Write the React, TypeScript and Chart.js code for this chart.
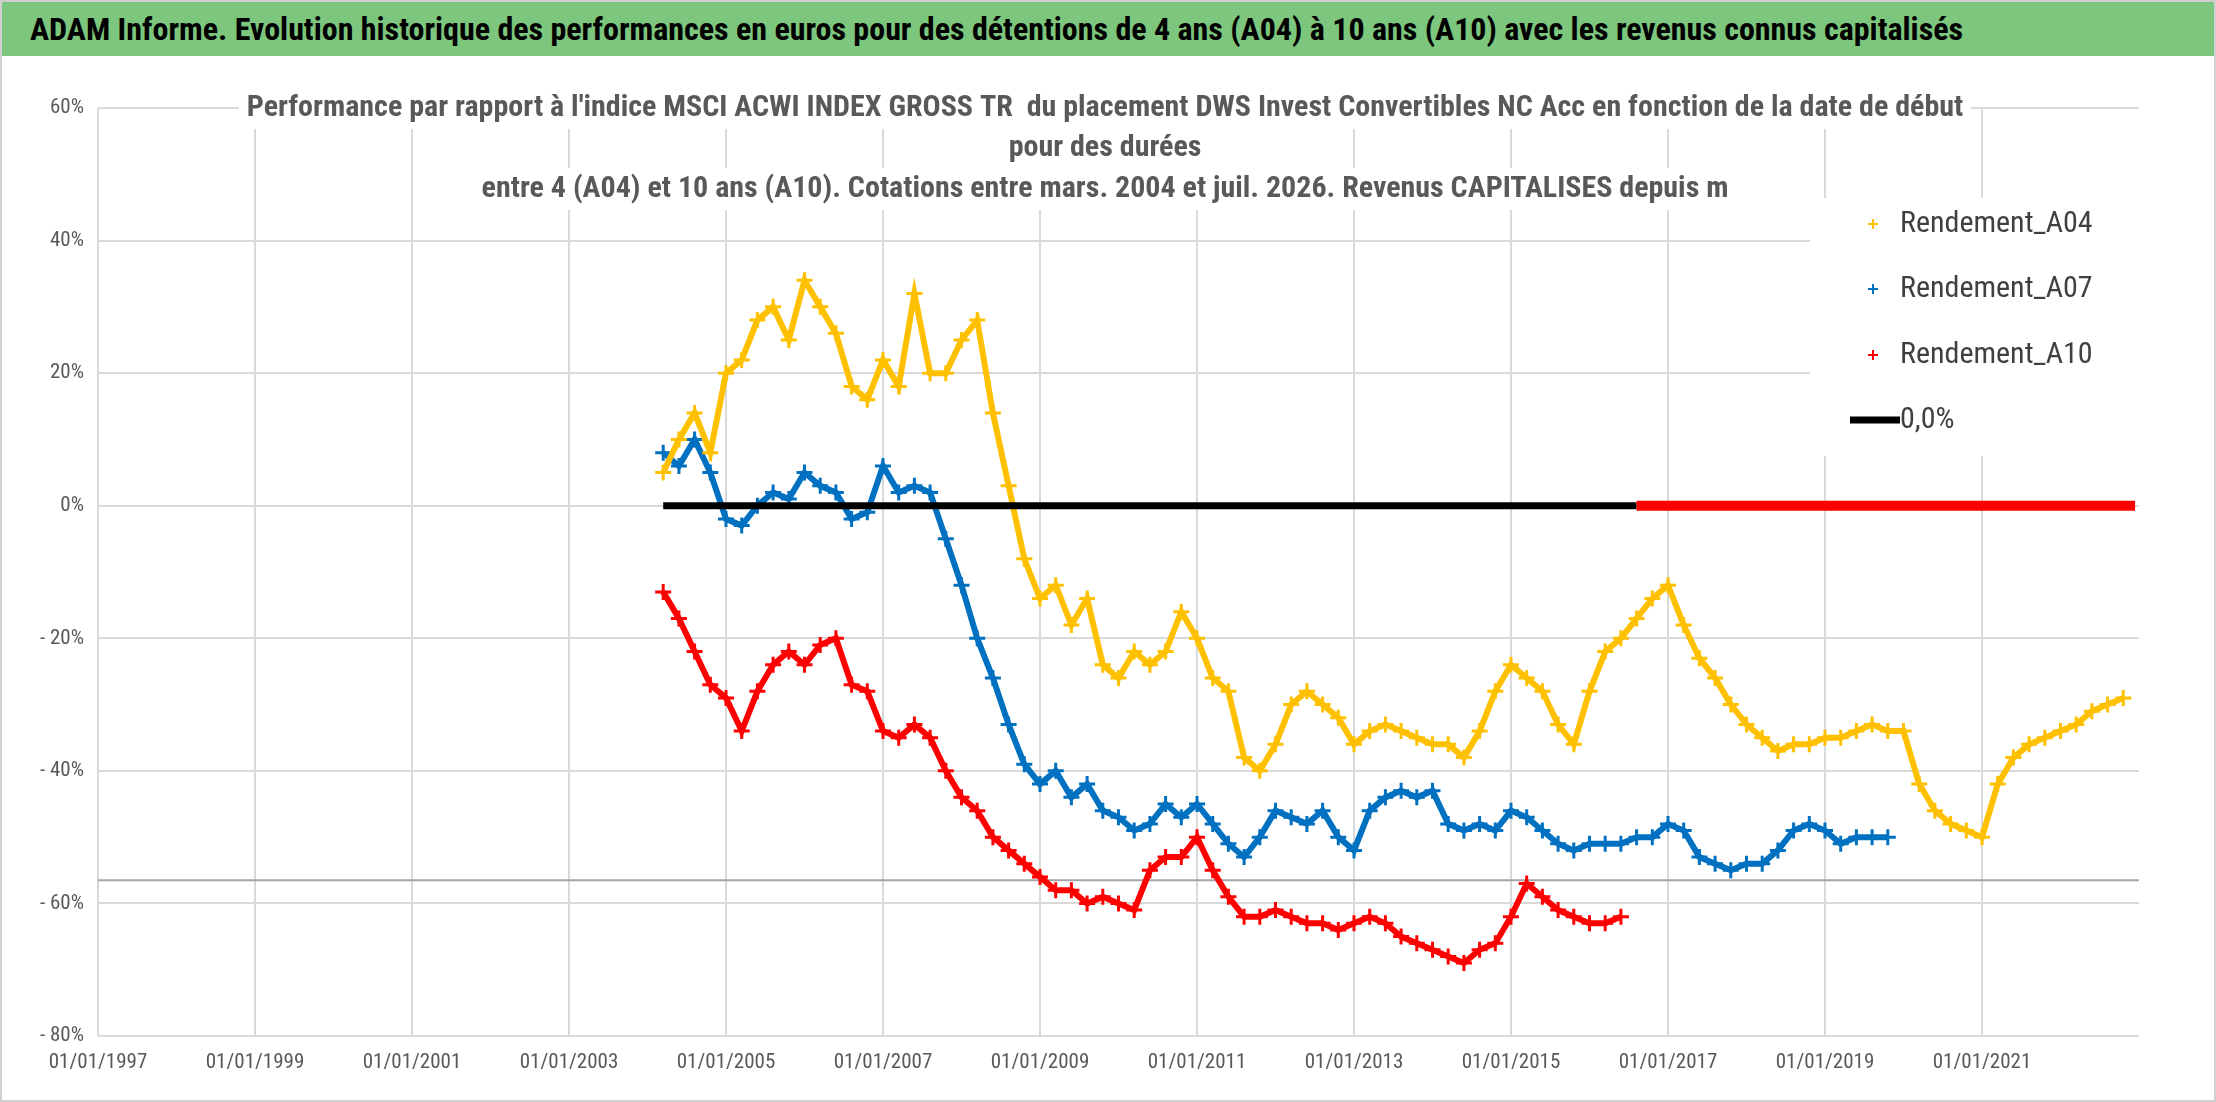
import React, { useEffect, useRef } from "react";
import { Chart, registerables } from "chart.js";
Chart.register(...registerables);

const HEADER = "ADAM Informe. Evolution historique des performances en euros pour des détentions de 4 ans (A04) à 10 ans (A10) avec les revenus connus capitalisés";
const SUBTITLE = [
  "Performance par rapport à l'indice MSCI ACWI INDEX GROSS TR  du placement DWS Invest Convertibles NC Acc en fonction de la date de début",
  "pour des durées",
  "entre 4 (A04) et 10 ans (A10). Cotations entre mars. 2004 et juil. 2026. Revenus CAPITALISES depuis m",
];
const LEGEND = ["Rendement_A04", "Rendement_A07", "Rendement_A10", "0,0%"];

const DATES = [
  2004.2, 2004.4, 2004.6, 2004.8,
  2005.0, 2005.2, 2005.4, 2005.6, 2005.8,
  2006.0, 2006.2, 2006.4, 2006.6, 2006.8,
  2007.0, 2007.2, 2007.4, 2007.6, 2007.8,
  2008.0, 2008.2, 2008.4, 2008.6, 2008.8,
  2009.0, 2009.2, 2009.4, 2009.6, 2009.8,
  2010.0, 2010.2, 2010.4, 2010.6, 2010.8,
  2011.0, 2011.2, 2011.4, 2011.6, 2011.8,
  2012.0, 2012.2, 2012.4, 2012.6, 2012.8,
  2013.0, 2013.2, 2013.4, 2013.6, 2013.8,
  2014.0, 2014.2, 2014.4, 2014.6, 2014.8,
  2015.0, 2015.2, 2015.4, 2015.6, 2015.8,
  2016.0, 2016.2, 2016.4, 2016.6, 2016.8,
  2017.0, 2017.2, 2017.4, 2017.6, 2017.8,
  2018.0, 2018.2, 2018.4, 2018.6, 2018.8,
  2019.0, 2019.2, 2019.4, 2019.6, 2019.8,
  2020.0, 2020.2, 2020.4, 2020.6, 2020.8,
  2021.0, 2021.2, 2021.4, 2021.6, 2021.8,
  2022.0, 2022.2, 2022.4, 2022.6, 2022.8,
];

const A04 = [
  5, 10, 14, 8,
  20, 22, 28, 30, 25,
  34, 30, 26, 18, 16,
  22, 18, 32, 20, 20,
  25, 28, 14, 3, -8,
  -14, -12, -18, -14, -24,
  -26, -22, -24, -22, -16,
  -20, -26, -28, -38, -40,
  -36, -30, -28, -30, -32,
  -36, -34, -33, -34, -35,
  -36, -36, -38, -34, -28,
  -24, -26, -28, -33, -36,
  -28, -22, -20, -17, -14,
  -12, -18, -23, -26, -30,
  -33, -35, -37, -36, -36,
  -35, -35, -34, -33, -34,
  -34, -42, -46, -48, -49,
  -50, -42, -38, -36, -35,
  -34, -33, -31, -30, -29,
];
const A07 = [
  8, 6, 10, 5,
  -2, -3, 0, 2, 1,
  5, 3, 2, -2, -1,
  6, 2, 3, 2, -5,
  -12, -20, -26, -33, -39,
  -42, -40, -44, -42, -46,
  -47, -49, -48, -45, -47,
  -45, -48, -51, -53, -50,
  -46, -47, -48, -46, -50,
  -52, -46, -44, -43, -44,
  -43, -48, -49, -48, -49,
  -46, -47, -49, -51, -52,
  -51, -51, -51, -50, -50,
  -48, -49, -53, -54, -55,
  -54, -54, -52, -49, -48,
  -49, -51, -50, -50, -50,
];
const A10 = [
  -13, -17, -22, -27,
  -29, -34, -28, -24, -22,
  -24, -21, -20, -27, -28,
  -34, -35, -33, -35, -40,
  -44, -46, -50, -52, -54,
  -56, -58, -58, -60, -59,
  -60, -61, -55, -53, -53,
  -50, -55, -59, -62, -62,
  -61, -62, -63, -63, -64,
  -63, -62, -63, -65, -66,
  -67, -68, -69, -67, -66,
  -62, -57, -59, -61, -62,
  -63, -63, -62,
];
const ZERO_BLACK_X = [2004.2, 2016.6];
const ZERO_RED_X = [2016.6, 2022.95];
const GRAY_LINE_X = [1997, 2023];
const GRAY_LINE_Y = -56.5;

const FONT = "'Liberation Sans Narrow', 'Roboto Condensed', 'Liberation Sans', sans-serif";

const pts = (ys: number[]) => ys.map((y, i) => ({ x: DATES[i], y }));

export default function App() {
  const ref = useRef<HTMLCanvasElement>(null);
  useEffect(() => {
    const overlay = {
      id: "overlay",
      afterDraw(chart: any) {
        const ctx = chart.ctx;
        ctx.save();
        ctx.font = `bold 30px ${FONT}`;
        ctx.textAlign = "center";
        ctx.textBaseline = "middle";
        const ys = [50, 90, 131];
        SUBTITLE.forEach((t, i) => {
          const w = ctx.measureText(t).width;
          ctx.fillStyle = "#fff";
          ctx.fillRect(1103 - w / 2 - 8, ys[i] - 21, w + 16, 42);
        });
        SUBTITLE.forEach((t, i) => {
          ctx.fillStyle = "#595959";
          ctx.fillText(t, 1103, ys[i]);
        });
        ctx.fillStyle = "#fff";
        ctx.fillRect(1808, 140, 333, 258);
        const cols = ["#FFC000", "#0070C0", "#FF0000"];
        const ly = [166, 231, 297, 362];
        ctx.font = `30px ${FONT}`;
        ctx.textAlign = "left";
        LEGEND.forEach((t, i) => {
          if (i < 3) {
            ctx.strokeStyle = cols[i];
            ctx.lineWidth = 2;
            ctx.beginPath();
            ctx.moveTo(1866, ly[i]); ctx.lineTo(1876, ly[i]);
            ctx.moveTo(1871, ly[i] - 5); ctx.lineTo(1871, ly[i] + 5);
            ctx.stroke();
          } else {
            ctx.strokeStyle = "#000";
            ctx.lineWidth = 7;
            ctx.beginPath();
            ctx.moveTo(1848, ly[i]); ctx.lineTo(1898, ly[i]);
            ctx.stroke();
          }
          ctx.fillStyle = "#404040";
          ctx.fillText(t, 1898, ly[i]);
        });
        ctx.restore();
      },
    };
    const ds = (label: string, data: any[], color: string) => ({
      label, data, borderColor: color, backgroundColor: color,
      pointStyle: "cross", pointRadius: 8, pointBorderWidth: 3,
      showLine: true, borderWidth: 6, order: 2,
    });
    const chart = new Chart(ref.current!, {
      type: "scatter",
      data: {
        datasets: [
          ds("Rendement_A04", pts(A04), "#FFC000"),
          ds("Rendement_A07", pts(A07), "#0070C0"),
          ds("Rendement_A10", pts(A10), "#FF0000"),
          { label: "0,0%", data: ZERO_BLACK_X.map((x) => ({ x, y: 0 })), borderColor: "#000", borderWidth: 7, showLine: true, pointRadius: 0, order: 1 } as any,
          { label: "zeroRed", data: ZERO_RED_X.map((x) => ({ x, y: 0 })), borderColor: "#FF0000", borderWidth: 10, showLine: true, pointRadius: 0, order: 0 } as any,
          { label: "gray", data: GRAY_LINE_X.map((x) => ({ x, y: GRAY_LINE_Y })), borderColor: "#A6A6A6", borderWidth: 2, showLine: true, pointRadius: 0, order: 3 } as any,
        ],
      },
      options: {
        animation: false,
        responsive: false,
        layout: { padding: { left: 0, right: 75, top: 50, bottom: 0 } },
        plugins: { legend: { display: false }, tooltip: { enabled: false } },
        scales: {
          x: {
            type: "linear", min: 1997, max: 2023,
            afterBuildTicks: (s: any) => { s.ticks = [1997,1999,2001,2003,2005,2007,2009,2011,2013,2015,2017,2019,2021].map((v) => ({ value: v })); },
            afterFit: (s: any) => { s.height = 66; },
            ticks: { callback: (v: any) => `01/01/${v}`, color: "#595959", font: { size: 21, family: FONT }, maxRotation: 0, autoSkip: false, padding: 14 },
            grid: { color: "#D9D9D9", lineWidth: 2, drawTicks: false },
            border: { display: false },
          },
          y: {
            min: -80, max: 60,
            afterFit: (s: any) => { s.width = 96; },
            ticks: { stepSize: 20, callback: (v: any) => (v < 0 ? `- ${-v}%` : `${v}%`), color: "#595959", font: { size: 21, family: FONT }, padding: 14 },
            grid: { color: "#D9D9D9", lineWidth: 2, drawTicks: false },
            border: { display: false },
          },
        },
      } as any,
      plugins: [overlay],
    });
    return () => chart.destroy();
  }, []);
  return (
    <div style={{ position: "fixed", left: 0, top: 0, width: 2216, height: 1102, background: "#fff", boxSizing: "border-box", border: "2px solid #D0D0D0" }}>
      <div style={{ height: 54, background: "#7DC67D", display: "flex", alignItems: "center", paddingLeft: 28, fontFamily: FONT, fontWeight: "bold", fontSize: 32, color: "#000", whiteSpace: "nowrap", overflow: "hidden" }}>{HEADER}</div>
      <canvas ref={ref} width={2212} height={1044} style={{ position: "absolute", left: 0, top: 56 }} />
    </div>
  );
}
